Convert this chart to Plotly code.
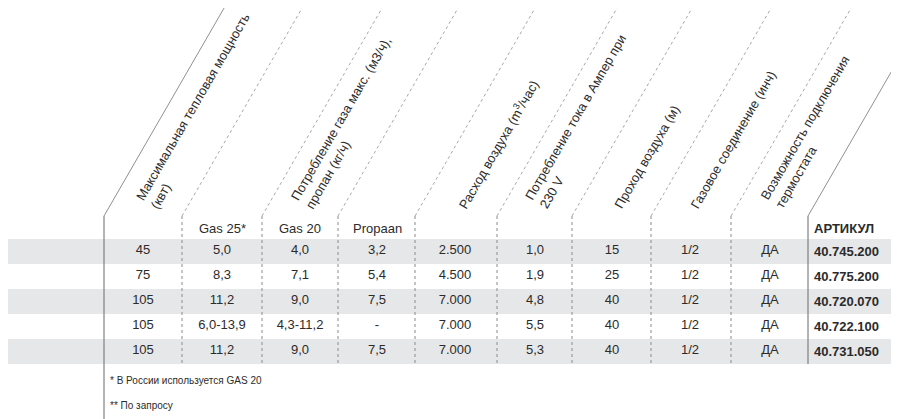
import plotly.graph_objects as go

models = ["AGA 45 E", "AGA 75 E", "AGA 100 E**", "AGA 102 E**", "AGA 111 E"]
power_kw = ["45", "75", "105", "105", "105"]
gas25 = ["5,0", "8,3", "11,2", "6,0-13,9", "11,2"]
gas20 = ["4,0", "7,1", "9,0", "4,3-11,2", "9,0"]
propaan = ["3,2", "5,4", "7,5", "-", "7,5"]
air_flow = ["2.500", "4.500", "7.000", "7.000", "7.000"]
amps = ["1,0", "1,9", "4,8", "5,5", "5,3"]
air_pass = ["15", "25", "40", "40", "40"]
gas_conn = ["1/2", "1/2", "1/2", "1/2", "1/2"]
thermostat = ["ДА", "ДА", "ДА", "ДА", "ДА"]
articles = ["40.745.200", "40.775.200", "40.720.070", "40.722.100", "40.731.050"]

sub_headers = ["Gas 25*", "Gas 20", "Propaan"]
rot_headers = [
    "Максимальная тепловая мощность<br>(квт)",
    "Потребление газа макс. (м3/ч),<br>пропан (кг/ч)",
    "Расход воздуха (m<sup>3</sup>/час)",
    "Потребление тока в Ампер при<br>230 V",
    "Проход воздуха (м)",
    "Газовое соединение (инч)",
    "Возможность подключения<br>термостата",
]
footnotes = ["* В России используется GAS 20", "** По запросу"]

# layout constants
row_y = [251, 276, 301, 326, 351]
row_top = [239, 264, 289, 314, 339]
row_h = 25
head_y = 228
col_x = [143, 222, 300, 377, 455, 535, 612, 690, 770]
dotted_x = [182, 262, 338, 415, 497, 572, 651, 731]
rot_pos = [(130, 214), (285, 214), (452, 214), (519, 214), (609, 214), (685, 214), (755, 214)]
k = 0.5774
FONT = "Liberation Sans"
TXT = "#2b2b2b"
OFF = 8  # page body margin compensation

fig = go.Figure()
shapes = []
for i, t in enumerate(row_top):
    if i % 2 == 0:
        shapes.append(dict(type="rect", x0=-20, x1=920, y0=t, y1=t + row_h,
                           fillcolor="#e6e7e8", line_width=0, layer="below"))
for x in dotted_x:
    shapes.append(dict(type="line", x0=x, x1=x, y0=216, y1=364,
                       line=dict(color="#8a8a8a", width=1, dash="dot")))
    shapes.append(dict(type="line", x0=x, x1=x + 216 * k, y0=216, y1=0,
                       line=dict(color="#a8a8a8", width=1, dash="dot")))
shapes.append(dict(type="line", x0=104, x1=104, y0=216, y1=430, line=dict(color="#808080", width=1.2)))
shapes.append(dict(type="line", x0=104, x1=104 + 216 * k, y0=216, y1=0, line=dict(color="#909090", width=1)))
shapes.append(dict(type="line", x0=808, x1=808, y0=216, y1=364, line=dict(color="#808080", width=1.2)))
shapes.append(dict(type="line", x0=808, x1=808 + 216 * k, y0=216, y1=0, line=dict(color="#909090", width=1)))

cols = [power_kw, gas25, gas20, propaan, air_flow, amps, air_pass, gas_conn, thermostat]
for x, vals in zip(col_x, cols):
    fig.add_trace(go.Scatter(x=[x] * len(vals), y=row_y, text=vals, mode="text",
                             textposition="middle center",
                             textfont=dict(family=FONT, size=13, color=TXT), hoverinfo="skip"))

ann = []
for m, y in zip(models, row_y):
    ann.append(dict(x=7, y=y, text="<b>%s</b>" % m, xanchor="left", showarrow=False,
                    font=dict(family=FONT, size=13, color=TXT)))
for a, y in zip(articles, row_y):
    ann.append(dict(x=812, y=y, text="<b>%s</b>" % a, xanchor="left", showarrow=False,
                    font=dict(family=FONT, size=13, color=TXT)))
ann.append(dict(x=7, y=head_y, text="<b>МОДЕЛЬ</b>", xanchor="left", showarrow=False,
                font=dict(family=FONT, size=13, color=TXT)))
ann.append(dict(x=812, y=head_y, text="<b>АРТИКУЛ</b>", xanchor="left", showarrow=False,
                font=dict(family=FONT, size=13, color=TXT)))
for s, x in zip(sub_headers, col_x[1:4]):
    ann.append(dict(x=x, y=head_y, text=s, showarrow=False,
                    font=dict(family=FONT, size=13, color=TXT)))
for h, (x, y) in zip(rot_headers, rot_pos):
    ann.append(dict(x=x, y=y, text=h, textangle=-60, xanchor="left", yanchor="bottom",
                    showarrow=False, align="left",
                    font=dict(family=FONT, size=13, color=TXT)))
for f, y in zip(footnotes, [380, 405]):
    ann.append(dict(x=108, y=y, text=f, xanchor="left", showarrow=False,
                    font=dict(family=FONT, size=10, color=TXT)))

fig.update_layout(
    width=899, height=419, margin=dict(l=0, r=0, t=0, b=0),
    paper_bgcolor="white", plot_bgcolor="white", showlegend=False,
    xaxis=dict(range=[OFF, 899 + OFF], visible=False, fixedrange=True),
    yaxis=dict(range=[419 + OFF, OFF], visible=False, fixedrange=True),
    shapes=shapes, annotations=ann,
)
fig.write_html("out.html", config={"displayModeBar": False})
